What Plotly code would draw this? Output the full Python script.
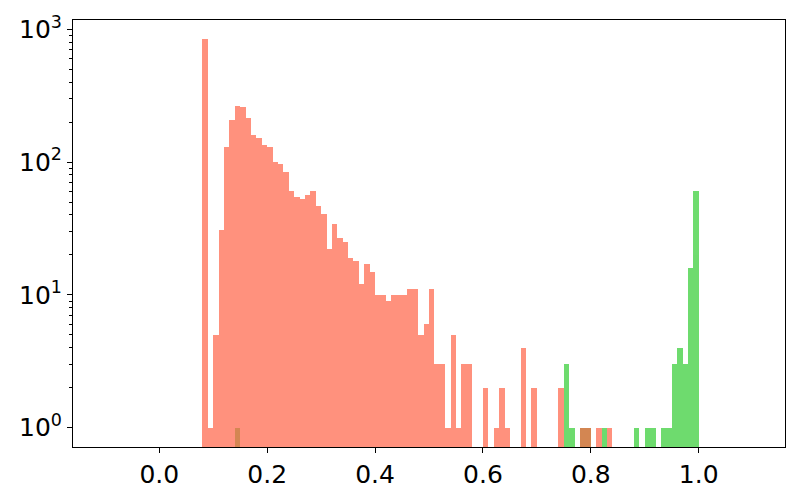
import plotly.graph_objects as go

# histogram bins (left edges, width 0.01) and counts, non-empty bins only
red_bins = [0.08, 0.09, 0.10, 0.11, 0.12, 0.13, 0.14, 0.15, 0.16, 0.17,
            0.18, 0.19, 0.20, 0.21, 0.22, 0.23, 0.24, 0.25, 0.26, 0.27,
            0.28, 0.29, 0.30, 0.31, 0.32, 0.33, 0.34, 0.35, 0.36, 0.37,
            0.38, 0.39, 0.40, 0.41, 0.42, 0.43, 0.44, 0.45, 0.46, 0.47,
            0.48, 0.49, 0.50, 0.51, 0.52, 0.53, 0.54, 0.55, 0.56, 0.57,
            0.60, 0.62, 0.63, 0.64, 0.67, 0.69, 0.74, 0.78, 0.79, 0.81,
            0.83]
red_counts = [840, 1, 5, 31, 130, 208, 264, 259, 215, 160,
              153, 135, 130, 100, 97, 84, 61, 55, 53, 57,
              61, 47, 41, 22, 34, 27, 25, 19, 18, 12,
              17, 15, 10, 10, 9, 10, 10, 10, 11, 11,
              5, 6, 11, 3, 3, 1, 5, 1, 3, 3,
              2, 1, 2, 1, 4, 2, 2, 1, 1, 1,
              1]

green_bins = [0.14, 0.75, 0.76, 0.78, 0.79, 0.82, 0.88, 0.90, 0.91, 0.93,
              0.94, 0.95, 0.96, 0.97, 0.98, 0.99]
green_counts = [1, 3, 1, 1, 1, 1, 1, 1, 1, 1,
                1, 3, 4, 3, 16, 61]

bin_width = 0.01

y_ticks = [1, 10, 100, 1000]
y_labels = ['10<sup>0</sup>', '10<sup>1</sup>', '10<sup>2</sup>', '10<sup>3</sup>']
minor_vals = [m * 10 ** d for d in range(0, 3) for m in range(2, 10)]

fig = go.Figure()
fig.add_trace(
    go.Bar(
        x=[b + bin_width / 2 for b in green_bins],
        y=green_counts,
        width=bin_width,
        marker=dict(color='limegreen', line=dict(width=0)),
        opacity=0.7,
        name='green'
    )
)
fig.add_trace(
    go.Bar(
        x=[b + bin_width / 2 for b in red_bins],
        y=red_counts,
        width=bin_width,
        marker=dict(color='tomato', line=dict(width=0)),
        opacity=0.7,
        name='red'
    )
)

fig.update_layout(
    width=800, height=500,
    margin=dict(l=73, r=15, t=20, b=53),
    barmode='overlay',
    bargap=0,
    showlegend=False,
    plot_bgcolor='white',
    paper_bgcolor='white',
    font=dict(family='DejaVu Sans', size=25, color='black'),
)
fig.update_xaxes(
    range=[-0.16, 1.16],
    tickvals=[0.0, 0.2, 0.4, 0.6, 0.8, 1.0],
    tickformat='.1f',
    tickfont=dict(family='DejaVu Sans', size=25, color='black'),
    ticks='outside', ticklen=5, tickcolor='black',
    showline=True, linecolor='black', linewidth=1, mirror=True,
    showgrid=False, zeroline=False, automargin=False,
)
fig.update_yaxes(
    type='log',
    range=[-0.145, 3.07],
    tickvals=y_ticks,
    ticktext=y_labels,
    tickfont=dict(family='DejaVu Sans', size=25, color='black'),
    ticks='outside', ticklen=5, tickcolor='black',
    minor=dict(tickvals=minor_vals, ticks='outside', ticklen=3, tickcolor='black'),
    showline=True, linecolor='black', linewidth=1, mirror=True,
    showgrid=False, zeroline=False, automargin=False,
)

fig.write_html("out.html", config={'displayModeBar': False},
               post_script="document.body.style.margin='0';")
